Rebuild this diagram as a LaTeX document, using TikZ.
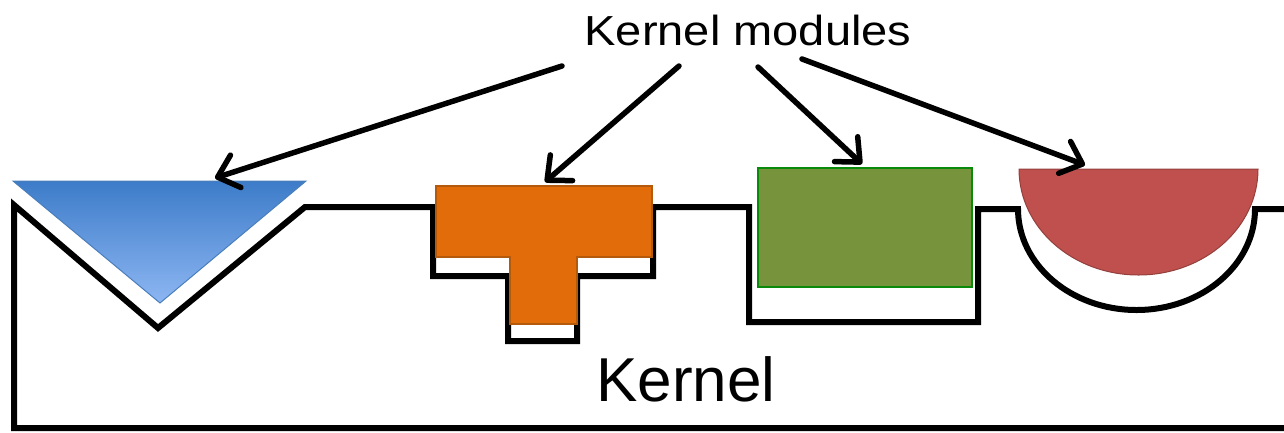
\documentclass[tikz,border=0pt]{standalone}
\usepackage{fontspec}
\setmainfont{Liberation Sans}
\usetikzlibrary{arrows.meta}
\definecolor{blueTop}{HTML}{3D7CC9}
\definecolor{blueBot}{HTML}{8DB6F2}
\definecolor{blueEdge}{HTML}{4A7EBB}
\definecolor{orangeFill}{HTML}{E36C0A}
\definecolor{orangeEdge}{HTML}{B35A0C}
\definecolor{greenFill}{HTML}{77933C}
\definecolor{greenEdge}{HTML}{0A8A0A}
\definecolor{redFill}{HTML}{C0504D}
\definecolor{redEdge}{HTML}{93403D}
\tikzset{
  kernelline/.style={line width=6pt, line join=miter, black},
  pointer/.style={line width=5.5pt, -{Straight Barb[length=19pt,width=34pt,line width=5.5pt,round]}, line cap=round},
  bigtext/.style={font=\fontsize{42}{50}\selectfont, inner sep=0pt},
  hugetext/.style={font=\fontsize{62}{70}\selectfont, inner sep=0pt}
}
\begin{document}
\begin{tikzpicture}[x=1pt,y=-1pt]
\useasboundingbox (0,0) rectangle (1284,432);
% kernel outline
\draw[kernelline] (1295,428) -- (14,428) -- (14,205) -- (158,328) -- (305,207) -- (433,207)
  -- (433,276) -- (508,276) -- (508,341) -- (577,341) -- (577,276) -- (653,276) -- (653,207)
  -- (749,207) -- (749,322) -- (978,322) -- (978,209) -- (1018,209)
  arc[start angle=180,end angle=0,x radius=118.5,y radius=101] -- (1295,209);
% blue triangle
\path[shading=axis, top color=blueTop, bottom color=blueBot] (13,181) -- (306,181) -- (160,303) -- cycle;
\draw[blueEdge, line width=1pt] (13,181) -- (306,181) -- (160,303) -- cycle;
% orange T
\draw[fill=orangeFill, draw=orangeEdge, line width=1.5pt] (436,186) -- (652,186) -- (652,257) -- (577,257)
  -- (577,324) -- (510,324) -- (510,257) -- (436,257) -- cycle;
% green rectangle
\draw[fill=greenFill, draw=greenEdge, line width=2pt] (758,168) rectangle (972,287);
% red half disc
\draw[fill=redFill, draw=redEdge, line width=1pt] (1019,169) -- (1258,169)
  arc[start angle=0,end angle=180,x radius=119.5,y radius=106] -- cycle;
% texts
\node[bigtext, anchor=base, xscale=1.12] (mods) at (748,45) {Kernel modules};
\node[hugetext, anchor=base] (kern) at (686,401) {Kernel};
% arrow tips
\coordinate (s1) at (562,66);
\coordinate (t1) at (215,178);
\coordinate (s2) at (679,66);
\coordinate (t2) at (545,182);
\coordinate (s3) at (758,67);
\coordinate (t3) at (862,164);
\coordinate (s4) at (802,59);
\coordinate (t4) at (1085,165);
\draw[pointer] (s1) -- (t1);
\draw[pointer] (s2) -- (t2);
\draw[pointer] (s3) -- (t3);
\draw[pointer] (s4) -- (t4);
\end{tikzpicture}
\end{document}
